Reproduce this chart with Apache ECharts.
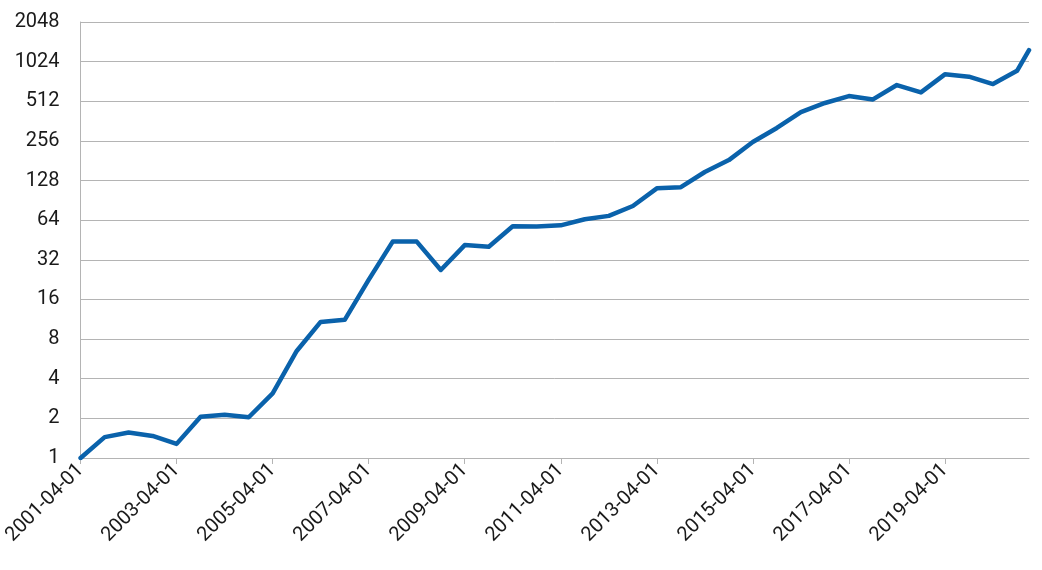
<!DOCTYPE html>
<html>
<head>
<meta charset="utf-8">
<script src="https://cdn.jsdelivr.net/npm/echarts@6/dist/echarts.min.js"></script>
<style>
  html, body { margin: 0; padding: 0; background: #fff; }
  #chart { width: 1042px; height: 570px; }
</style>
</head>
<body>
<div id="chart"></div>
<script>
// semi-annual observation dates (last one is a partial period)
const dates = [
  '2001-04-01', '2001-10-01', '2002-04-01', '2002-10-01', '2003-04-01', '2003-10-01',
  '2004-04-01', '2004-10-01', '2005-04-01', '2005-10-01', '2006-04-01', '2006-10-01',
  '2007-04-01', '2007-10-01', '2008-04-01', '2008-10-01', '2009-04-01', '2009-10-01',
  '2010-04-01', '2010-10-01', '2011-04-01', '2011-10-01', '2012-04-01', '2012-10-01',
  '2013-04-01', '2013-10-01', '2014-04-01', '2014-10-01', '2015-04-01', '2015-10-01',
  '2016-04-01', '2016-10-01', '2017-04-01', '2017-10-01', '2018-04-01', '2018-10-01',
  '2019-04-01', '2019-10-01', '2020-04-01', '2020-10-01', '2020-12-31'
]
const values = [
  1, 1.44, 1.56, 1.47, 1.28, 2.06,
  2.13, 2.04, 3.1, 6.5, 10.8, 11.2,
  22.5, 44, 44, 26.8, 41.4, 40.2,
  57.6, 57.3, 58.5, 65, 69, 82,
  111.7, 114, 148.6, 183, 251, 321,
  424, 497, 561, 529, 680, 598,
  820, 787, 692, 873, 1253
]
// x tick labels, every two years
const tickYears = [2001, 2003, 2005, 2007, 2009, 2011, 2013, 2015, 2017, 2019]
const startDate = '2001-04-01'

const DAY = 864e5
const yearsFrom = (d) => (Date.parse(d) - Date.parse(startDate)) / (365.25 * DAY)
const seriesData = dates.map((d, i) => [yearsFrom(d), values[i]])
const tickOffsets = tickYears.map((y) => y - tickYears[0])

const font = 'Roboto, "Liberation Sans", sans-serif'
const gridGray = '#b4b4b4'

const myChart = echarts.init(document.getElementById('chart'))
myChart.setOption({
  animation: false,
  grid: { left: 80, right: 13, top: 22, bottom: 112, containLabel: false },
  xAxis: {
    type: 'value',
    min: 0,
    max: 'dataMax',
    axisLine: { show: true, lineStyle: { color: gridGray, width: 1 } },
    axisTick: {
      show: true,
      length: 6,
      lineStyle: { color: gridGray },
      customValues: tickOffsets,
    },
    axisLabel: {
      customValues: tickOffsets,
      rotate: 45,
      margin: 9,
      color: '#1a1a1a',
      fontFamily: font,
      fontSize: 20,
      formatter: (v) => tickYears[0] + Math.round(v) + '-04-01',
    },
    splitLine: { show: false },
  },
  yAxis: {
    type: 'log',
    logBase: 2,
    min: 1,
    max: 2048,
    interval: 1,
    axisLine: { show: true, lineStyle: { color: gridGray, width: 1 } },
    axisTick: { show: false },
    axisLabel: {
      margin: 21,
      color: '#1a1a1a',
      fontFamily: font,
      fontSize: 20,
      formatter: (v) => String(Math.round(v)),
    },
    splitLine: { show: true, lineStyle: { color: gridGray, width: 1 } },
  },
  series: [
    {
      type: 'line',
      data: seriesData,
      showSymbol: false,
      symbol: 'none',
      lineStyle: { color: '#0a62ab', width: 4.5, cap: 'round', join: 'round' },
    },
  ],
})
</script>
</body>
</html>
